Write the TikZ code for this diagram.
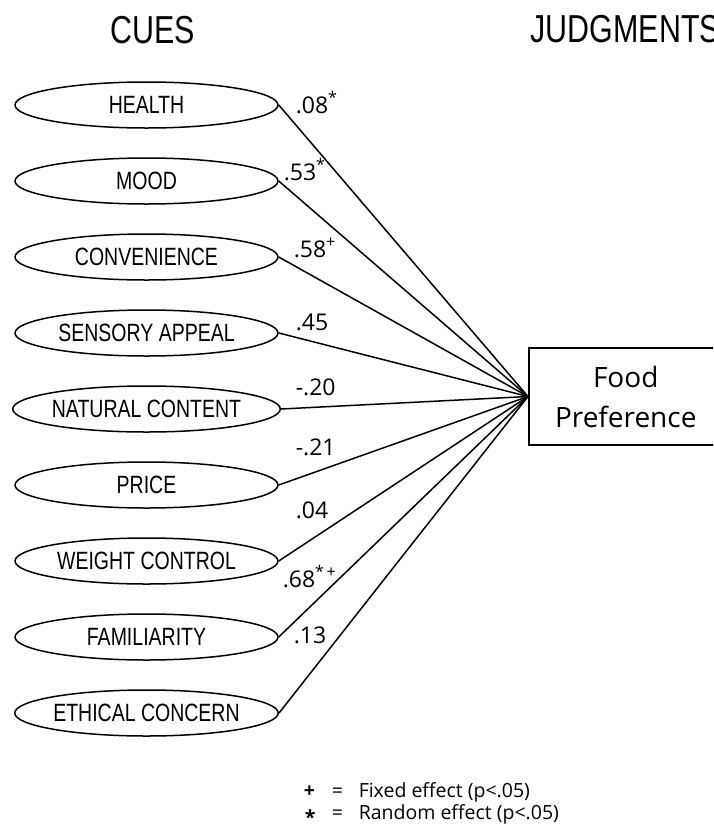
\documentclass[tikz,border=0pt]{standalone}
\usepackage{fontspec}
\setmainfont{Open Sans}
\newfontfamily\arialfont{Liberation Sans}
\usetikzlibrary{positioning, shapes.geometric}
\newcommand{\narrowtext}[1]{\scalebox{0.78}[1]{#1}}
\tikzset{
  every picture/.style={line width=1.5pt},
  cue/.style={draw, ellipse, minimum width=263pt, minimum height=46pt, inner sep=0pt,
    font=\arialfont\fontsize{25}{25}\selectfont},
  heading/.style={anchor=base west, inner sep=0pt, font=\arialfont\fontsize{39}{39}\selectfont},
  weight/.style={anchor=base west, inner sep=0pt, font=\fontsize{23}{23}\selectfont},
  target/.style={draw, minimum width=194pt, minimum height=97pt, align=center,
    font=\fontsize{28}{40}\selectfont},
  legend/.style={anchor=base west, inner sep=0pt, font=\fontsize{19.5}{19.5}\selectfont},
}

\begin{document}
\begin{tikzpicture}[x=1pt, y=-1pt]
  \useasboundingbox (0,0) rectangle (713,836);
  \clip (0,0) rectangle (713,836);
  \node[heading] (cues) at (110,43) {\narrowtext{CUES}};
  \node[heading] (judg) at (530,42) {\narrowtext{JUDGMENTS}};
  \foreach \n/\y/\t in {health/105/HEALTH, mood/181/MOOD, conv/257/CONVENIENCE,
      sens/333/SENSORY APPEAL, natu/409/NATURAL CONTENT, price/485/PRICE,
      weig/561/WEIGHT CONTROL, fami/637/FAMILIARITY, ethi/713/ETHICAL CONCERN} {
    \node[cue] (\n) at (146.5,\y) {\narrowtext{\t}};
  }
  \node[target, anchor=west] (pref) at (528,396.5) {Food\\Preference};
  \foreach \n in {health, mood, conv, sens, natu, price, weig, fami, ethi} {
    \draw (\n.east) -- (pref.west);
  }
  % path coefficients
  \node[weight] (w1) at (295,113) {.08\textsuperscript{*}};
  \node[weight] (w2) at (283,180) {.53\textsuperscript{*}};
  \node[weight] (w3) at (293,257) {.58\textsuperscript{+}};
  \node[weight] (w4) at (295,330) {.45};
  \node[weight] (w5) at (295,395) {-.20};
  \node[weight] (w6) at (295,455) {-.21};
  \node[weight] (w7) at (295,518) {.04};
  \node[weight] (w8) at (282,587) {.68\textsuperscript{*\,+}};
  \node[weight] (w9) at (293,643) {.13};
  % legend
  \node[legend] (plus) at (303,797) {\textbf{+}};
  \node[legend] (star) at (304,824) {\textbf{*}};
  \node[legend] (eq1) at (331,797) {=};
  \node[legend] (eq2) at (331,819) {=};
  \node[legend] (fixed) at (358,797) {Fixed effect (p<.05)};
  \node[legend] (rand) at (358,819) {Random effect (p<.05)};
\end{tikzpicture}
\end{document}
